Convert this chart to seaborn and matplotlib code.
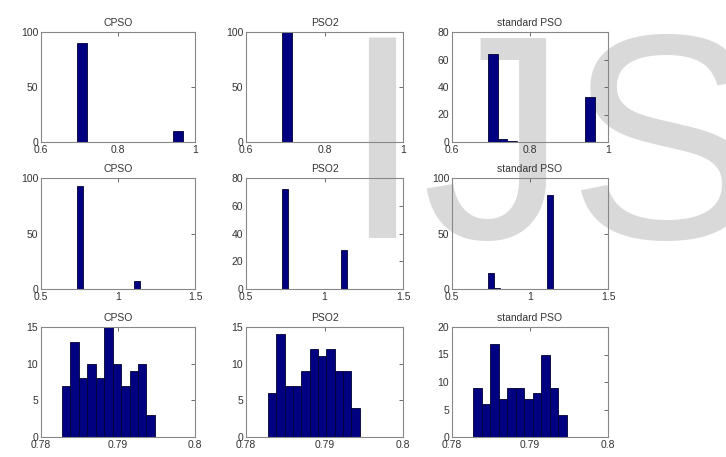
import numpy as np
import matplotlib
matplotlib.use("Agg")
import matplotlib.pyplot as plt
import seaborn as sns

# histogram counts per panel (11 bins each)
methods = ["CPSO", "PSO2", "standard PSO"]

row1_counts = [
    [90, 0, 0, 0, 0, 0, 0, 0, 0, 0, 10],
    [100, 0, 0, 0, 0, 0, 0, 0, 0, 0, 0],
    [64, 2, 1, 0, 0, 0, 0, 0, 0, 0, 33],
]
row1_ranges = [(0.694, 0.969), (0.692, 0.967), (0.692, 0.967)]

row2_counts = [
    [93, 0, 0, 0, 0, 0, 0, 0, 0, 0, 7],
    [72, 0, 0, 0, 0, 0, 0, 0, 0, 0, 28],
    [14, 1, 0, 0, 0, 0, 0, 0, 0, 0, 85],
]
row2_ranges = [(0.733, 1.143), (0.729, 1.143), (0.731, 1.147)]

row3_counts = [
    [7, 13, 8, 10, 8, 15, 10, 7, 9, 10, 3],
    [6, 14, 7, 7, 9, 12, 11, 12, 9, 9, 4],
    [9, 6, 17, 7, 9, 9, 7, 8, 15, 9, 4],
]
row3_ranges = [(0.7827, 0.7948), (0.7828, 0.7945), (0.7827, 0.7947)]

row_xlims = [(0.6, 1.0), (0.5, 1.5), (0.78, 0.8)]
row_xticks = [[0.6, 0.8, 1.0], [0.5, 1.0, 1.5], [0.78, 0.79, 0.8]]
row_xticklabels = [["0.6", "0.8", "1"], ["0.5", "1", "1.5"], ["0.78", "0.79", "0.8"]]
ylims = [[100, 100, 80], [100, 80, 100], [15, 15, 20]]
yticks = [
    [[0, 50, 100], [0, 50, 100], [0, 20, 40, 60, 80]],
    [[0, 50, 100], [0, 20, 40, 60, 80], [0, 50, 100]],
    [[0, 5, 10, 15], [0, 5, 10, 15], [0, 5, 10, 15, 20]],
]

sns.set_theme(style="white")
plt.rcParams["font.family"] = ["Liberation Sans", "DejaVu Sans"]

W, H = 726, 457
fig = plt.figure(figsize=(W / 100, H / 100), dpi=100)
fig.patch.set_facecolor("white")

# watermark behind the plots
fig.text(341 / W, 1 - 238 / H, "IJS", fontsize=210, color="#d9d9d9",
         family="Liberation Sans", va="baseline", ha="left", zorder=-1)

col_left = [41, 246, 452]
col_width = [154, 157, 156]
row_top = [32, 178, 327]
row_h = [110, 111, 110]

all_counts = [row1_counts, row2_counts, row3_counts]
all_ranges = [row1_ranges, row2_ranges, row3_ranges]

for r in range(3):
    for c in range(3):
        ax = fig.add_axes([col_left[c] / W, 1 - (row_top[r] + row_h[r]) / H,
                           col_width[c] / W, row_h[r] / H])
        ax.set_facecolor("none")
        counts = all_counts[r][c]
        lo, hi = all_ranges[r][c]
        nb = len(counts)
        edges = np.linspace(lo, hi, nb + 1)
        centers = (edges[:-1] + edges[1:]) / 2
        sns.histplot(x=centers, weights=counts, bins=nb, binrange=(lo, hi),
                     color="#000080", edgecolor="#000033", linewidth=0.6,
                     alpha=1, ax=ax)
        ax.set_xlim(*row_xlims[r])
        ax.set_ylim(0, ylims[r][c])
        ax.set_xticks(row_xticks[r])
        ax.set_xticklabels(row_xticklabels[r])
        ax.set_yticks(yticks[r][c])
        ax.set_xlabel("")
        ax.set_ylabel("")
        ax.set_title(methods[c], fontsize=7.5, pad=4, color="#333333")
        ax.tick_params(direction="in", length=3, width=0.6, labelsize=7.5,
                       colors="#555555", labelcolor="#333333",
                       top=True, right=True, pad=2)
        for s in ax.spines.values():
            s.set_color("#888888")
            s.set_linewidth(0.8)

fig.savefig("out.png", dpi=100)
